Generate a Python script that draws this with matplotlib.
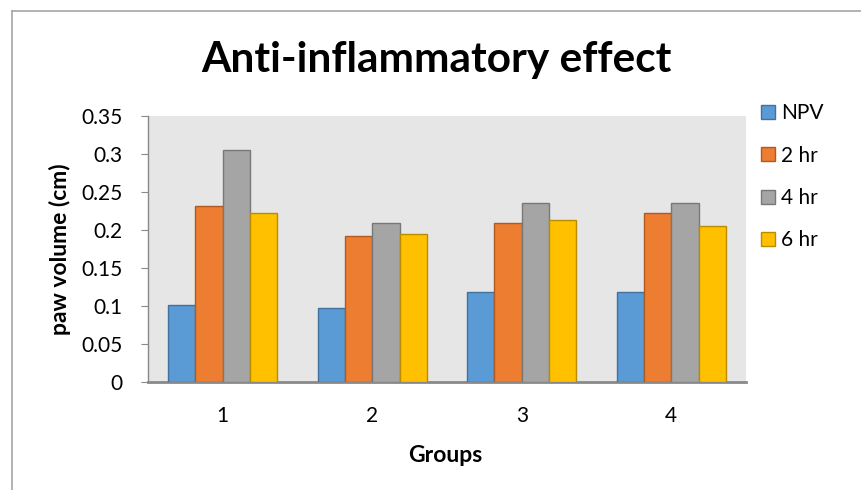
import numpy as np
import matplotlib
matplotlib.use("Agg")
import matplotlib.pyplot as plt
from matplotlib.lines import Line2D
from matplotlib.patches import Patch

# Chart data
groups = ["1", "2", "3", "4"]
series_names = ["NPV", "2 hr", "4 hr", "6 hr"]
npv = [0.101, 0.098, 0.119, 0.119]
hr2 = [0.232, 0.192, 0.209, 0.223]
hr4 = [0.305, 0.209, 0.236, 0.235]
hr6 = [0.223, 0.195, 0.213, 0.205]
y_ticks = [0, 0.05, 0.1, 0.15, 0.2, 0.25, 0.3, 0.35]
y_tick_labels = ["0", "0.05", "0.1", "0.15", "0.2", "0.25", "0.3", "0.35"]

fills = ["#5B9BD5", "#ED7D31", "#A5A5A5", "#FFC000"]
edges = ["#41719C", "#AE5A21", "#787878", "#BC8C00"]

plt.rcParams["font.family"] = ["Lato", "DejaVu Sans"]

W, H = 862, 490
fig = plt.figure(figsize=(W / 100, H / 100), dpi=100)

# plot area in pixel coords
left, right, top, bottom = 148, 746, 116, 382
ax = fig.add_axes([left / W, 1 - bottom / H, (right - left) / W, (bottom - top) / H])
ax.set_facecolor("#E7E6E6")

x = np.arange(len(groups)) + 1
bw = 0.183
all_series = [npv, hr2, hr4, hr6]
for i, vals in enumerate(all_series):
    ax.bar(x + (i - 1.5) * bw, vals, width=bw, color=fills[i], edgecolor=edges[i],
           linewidth=1, label=series_names[i], zorder=3)

ax.set_xlim(0.5, len(groups) + 0.5)
ax.set_ylim(0, 0.35)
ax.set_yticks(y_ticks)
ax.set_yticklabels(y_tick_labels)
ax.set_xticks(x)
ax.set_xticklabels(groups)
ax.tick_params(axis="y", length=5, color="#898989", labelsize=15, pad=13)
ax.tick_params(axis="x", length=0, labelsize=15, pad=17)

for s in ["top", "right"]:
    ax.spines[s].set_visible(False)
ax.spines["left"].set_color("#898989")
ax.spines["left"].set_linewidth(1)
ax.spines["bottom"].set_color("#898989")
ax.spines["bottom"].set_linewidth(2)

ax.set_ylabel("paw volume (cm)", fontsize=16.5, fontweight="bold", labelpad=8)
fig.text(445 / W, 1 - 455 / H, "Groups", fontsize=16.5, fontweight="bold",
         ha="center", va="center")

fig.text(436 / W, 1 - 72 / H, "Anti-inflammatory effect", fontsize=30.5,
         fontweight="bold", ha="center", va="baseline")

handles = [Patch(facecolor=fills[i], edgecolor=edges[i], linewidth=1) for i in range(4)]
fig.legend(handles, series_names, loc="upper left", bbox_to_anchor=(761 / W, 1 - 103 / H),
           frameon=False, fontsize=15, handlelength=0.68, handleheight=0.68,
           handletextpad=0.3, labelspacing=1.08, borderpad=0, borderaxespad=0)

# chart border
fig.add_artist(Line2D([12 / W, 12 / W], [0, 1 - 11 / H], color="#A6A6A6", lw=1.2))
fig.add_artist(Line2D([12 / W, 1], [1 - 11 / H, 1 - 11 / H], color="#A6A6A6", lw=1.2))

fig.savefig("out.png", dpi=100)
